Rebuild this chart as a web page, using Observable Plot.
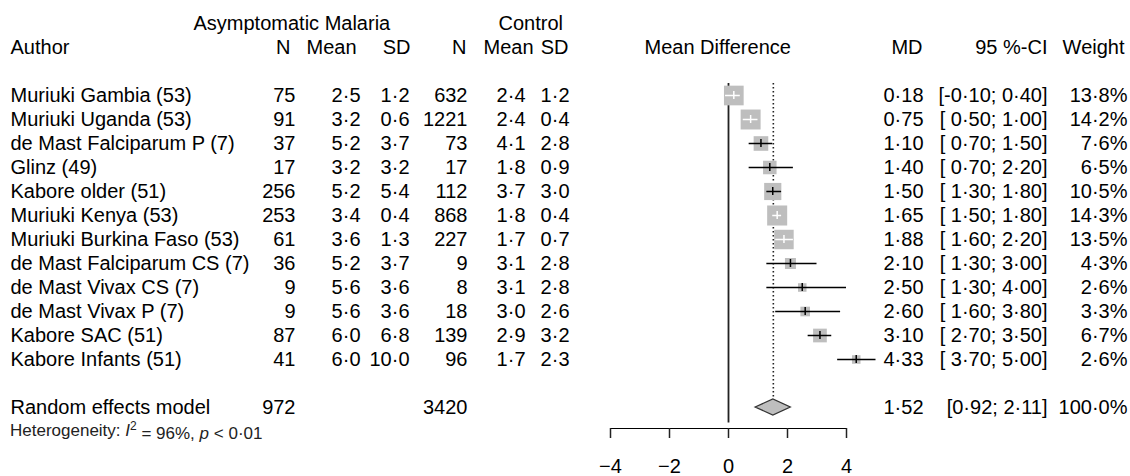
<!DOCTYPE html>
<html><head><meta charset="utf-8">
<script src="https://cdn.jsdelivr.net/npm/d3@7"></script>
<script src="https://cdn.jsdelivr.net/npm/@observablehq/plot@0.6"></script>
<style>
html,body{margin:0;padding:0;background:#fff;}
#chart svg{display:block;}
#chart [aria-label^="x-axis"] line, #chart [aria-label^="x-axis"] path, #chart .tick line, #chart .domain {stroke-width:1.5px; stroke:#222;}
#chart [aria-label^="x-axis"] text, #chart .tick text {font-size:20px;}
</style></head><body><div id="chart"></div>
<script>
// ---- data ----
const authors = ["Muriuki Gambia (53)", "Muriuki Uganda (53)", "de Mast Falciparum P (7)", "Glinz (49)",
  "Kabore older (51)", "Muriuki Kenya (53)", "Muriuki Burkina Faso (53)", "de Mast Falciparum CS (7)",
  "de Mast Vivax CS (7)", "de Mast Vivax P (7)", "Kabore SAC (51)", "Kabore Infants (51)"];
const nE = [75, 91, 37, 17, 256, 253, 61, 36, 9, 9, 87, 41];
const meanE = [2.5, 3.2, 5.2, 3.2, 5.2, 3.4, 3.6, 5.2, 5.6, 5.6, 6.0, 6.0];
const sdE = [1.2, 0.6, 3.7, 3.2, 5.4, 0.4, 1.3, 3.7, 3.6, 3.6, 6.8, 10.0];
const nC = [632, 1221, 73, 17, 112, 868, 227, 9, 8, 18, 139, 96];
const meanC = [2.4, 2.4, 4.1, 1.8, 3.7, 1.8, 1.7, 3.1, 3.1, 3.0, 2.9, 1.7];
const sdC = [1.2, 0.4, 2.8, 0.9, 3.0, 0.4, 0.7, 2.8, 2.8, 2.6, 3.2, 2.3];
const md = [0.18, 0.75, 1.10, 1.40, 1.50, 1.65, 1.88, 2.10, 2.50, 2.60, 3.10, 4.33];
const lower = [-0.10, 0.50, 0.70, 0.70, 1.30, 1.50, 1.60, 1.30, 1.30, 1.60, 2.70, 3.70];
const upper = [0.40, 1.00, 1.50, 2.20, 1.80, 1.80, 2.20, 3.00, 4.00, 3.80, 3.50, 5.00];
const weight = [13.8, 14.2, 7.6, 6.5, 10.5, 14.3, 13.5, 4.3, 2.6, 3.3, 6.7, 2.6];

const summaryLabel = "Random effects model";
const summaryNE = 972, summaryNC = 3420;
const summaryMD = 1.52, summaryLower = 0.92, summaryUpper = 2.11, summaryWeight = 100.0;
const hetI2 = "96%", hetP = "0·01";

const header1 = ["Asymptomatic Malaria", "Control"];
const header2 = ["Author", "N", "Mean", "SD", "N", "Mean", "SD", "Mean Difference", "MD", "95 %-CI", "Weight"];
const xDomain = [-4, 4];
const xTicks = [-4, -2, 0, 2, 4];

// ---- layout ----
const W = 1130, H = 476;
const ML = 610, MR = 284, MB = 48;
const rowH = 24.7, firstY = 16.9;
const boxK = 5.3; // square side in px per sqrt(weight %)
const FS = 20;
const font = "'Liberation Sans', Arial, Helvetica, sans-serif";

const fmt = (v, d) => v.toFixed(d).replace(".", "\u00B7");
const ci = (lo, hi, pad) => "[" + (pad && lo >= 0 ? " " : "") + fmt(lo, 2) + "; " + fmt(hi, 2) + "]";

const yDomain = ["h1", "h2", "gap1", ...authors, "gap2", "summary", "het"];
const xPx = d3.scaleLinear(xDomain, [ML, W - MR]);

const studies = authors.map((author, i) => {
  const half = boxK * Math.sqrt(weight[i]) / 2;
  const inside = xPx(md[i]) - xPx(lower[i]) <= half && xPx(upper[i]) - xPx(md[i]) <= half;
  return {author, nE: nE[i], meanE: meanE[i], sdE: sdE[i], nC: nC[i], meanC: meanC[i], sdC: sdC[i],
    md: md[i], lower: lower[i], upper: upper[i], weight: weight[i], inside};
});

// column right edges (px) for study rows
const cols = [
  {key: d => String(d.nE), x: 295},
  {key: d => fmt(d.meanE, 1), x: 360},
  {key: d => fmt(d.sdE, 1), x: 409},
  {key: d => String(d.nC), x: 467},
  {key: d => fmt(d.meanC, 1), x: 525},
  {key: d => fmt(d.sdC, 1), x: 569},
  {key: d => fmt(d.md, 2), x: 923},
  {key: d => ci(d.lower, d.upper, true), x: 1047},
  {key: d => fmt(d.weight, 1) + "%", x: 1127}
];
const h1Pos = [[193, "start"], [498, "start"]];
const h2Pos = [[10, "start"], [290, "end"], [356, "end"], [410, "end"], [466, "end"], [533, "end"], [568, "end"],
  [644, "start"], [922, "end"], [1047, "end"], [1124, "end"]];

const txt = (data, y, text, x, anchor, extra = {}) => Plot.text(data, {
  y, text, frameAnchor: "left", dx: x - ML, textAnchor: anchor, fontSize: FS, fill: "black", ...extra
});

const diamondMark = (index, scales) => {
  const x = scales.x, y = scales.y;
  const yc = y("summary") + (y.bandwidth ? y.bandwidth() / 2 : 0);
  const h = 8;
  const pts = [[x(summaryLower), yc], [x(summaryMD), yc - h], [x(summaryUpper), yc], [x(summaryMD), yc + h]];
  return d3.create("svg:path")
    .attr("d", "M" + pts.map(p => p.join(",")).join("L") + "Z")
    .attr("fill", "#bebebe").attr("stroke", "#333").attr("stroke-width", 1.3).node();
};

const hetMark = (index, scales) => {
  const y = scales.y;
  const yc = y("het") + (y.bandwidth ? y.bandwidth() / 2 : 0);
  const t = d3.create("svg:text").attr("x", 10).attr("y", yc).attr("dy", "0.32em")
    .attr("text-anchor", "start")
    .attr("font-size", 17).attr("font-family", font).attr("fill", "#222");
  t.append("tspan").text("Heterogeneity: ");
  t.append("tspan").attr("font-style", "italic").text("I");
  t.append("tspan").attr("dy", "-0.5em").attr("font-size", 12).text("2");
  t.append("tspan").attr("dy", "0.5em").text(" = " + hetI2 + ", ");
  t.append("tspan").attr("font-style", "italic").text("p");
  t.append("tspan").text(" < " + hetP);
  return t.node();
};

const marks = [
  Plot.ruleX([0], {y1: () => authors[0], y2: () => "summary", insetBottom: -3.5, stroke: "#222", strokeWidth: 1.8}),
  Plot.ruleX([summaryMD], {y1: () => authors[0], y2: () => "gap2", insetBottom: -4, stroke: "#222",
    strokeWidth: 1.6, strokeDasharray: "1.6,2.4"}),
  Plot.dot(studies, {x: "md", y: "author", r: "weight", symbol: "square", fill: "#bebebe", stroke: "none"}),
  Plot.ruleY(studies.filter(d => !d.inside), {y: "author", x1: "lower", x2: "upper", stroke: "black", strokeWidth: 1.5}),
  Plot.ruleY(studies.filter(d => d.inside), {y: "author", x1: "lower", x2: "upper", stroke: "white", strokeWidth: 1.5}),
  Plot.tickX(studies.filter(d => !d.inside), {x: "md", y: "author", insetTop: 8, insetBottom: 8, stroke: "black", strokeWidth: 1.5}),
  Plot.tickX(studies.filter(d => d.inside), {x: "md", y: "author", insetTop: 8, insetBottom: 8, stroke: "white", strokeWidth: 1.5}),
  diamondMark,
  // headers
  ...header1.map((t, i) => txt([t], () => "h1", d => d, h1Pos[i][0], h1Pos[i][1])),
  ...header2.map((t, i) => txt([t], () => "h2", d => d, h2Pos[i][0], h2Pos[i][1])),
  // study rows
  txt(studies, "author", "author", 10, "start"),
  ...cols.map(c => txt(studies, "author", c.key, c.x, "end")),
  // summary row
  txt([summaryLabel], () => "summary", d => d, 10, "start"),
  txt([summaryNE], () => "summary", d => String(d), 295, "end"),
  txt([summaryNC], () => "summary", d => String(d), 467, "end"),
  txt([summaryMD], () => "summary", d => fmt(d, 2), 923, "end"),
  txt([[summaryLower, summaryUpper]], () => "summary", d => ci(d[0], d[1], false), 1047, "end"),
  txt([summaryWeight], () => "summary", d => fmt(d, 1) + "%", 1127, "end"),
  hetMark
];

const chart = Plot.plot({
  width: W, height: H,
  marginLeft: ML, marginRight: MR, marginTop: 0, marginBottom: MB,
  style: {fontFamily: font, fontSize: "20px", background: "white", color: "black"},
  x: {domain: xDomain, ticks: xTicks, tickSize: 10, tickPadding: 20, label: null, line: true,
      tickFormat: d => (d < 0 ? "\u2212" : "") + Math.abs(d)},
  y: {type: "band", domain: yDomain, padding: 0, axis: null,
      range: [firstY - rowH / 2, firstY - rowH / 2 + rowH * yDomain.length]},
  r: {type: "sqrt", domain: [0, 100], range: [0, boxK * 10 / Math.sqrt(Math.PI)]},
  marks
});
document.getElementById("chart").appendChild(chart);
</script>
</body></html>
